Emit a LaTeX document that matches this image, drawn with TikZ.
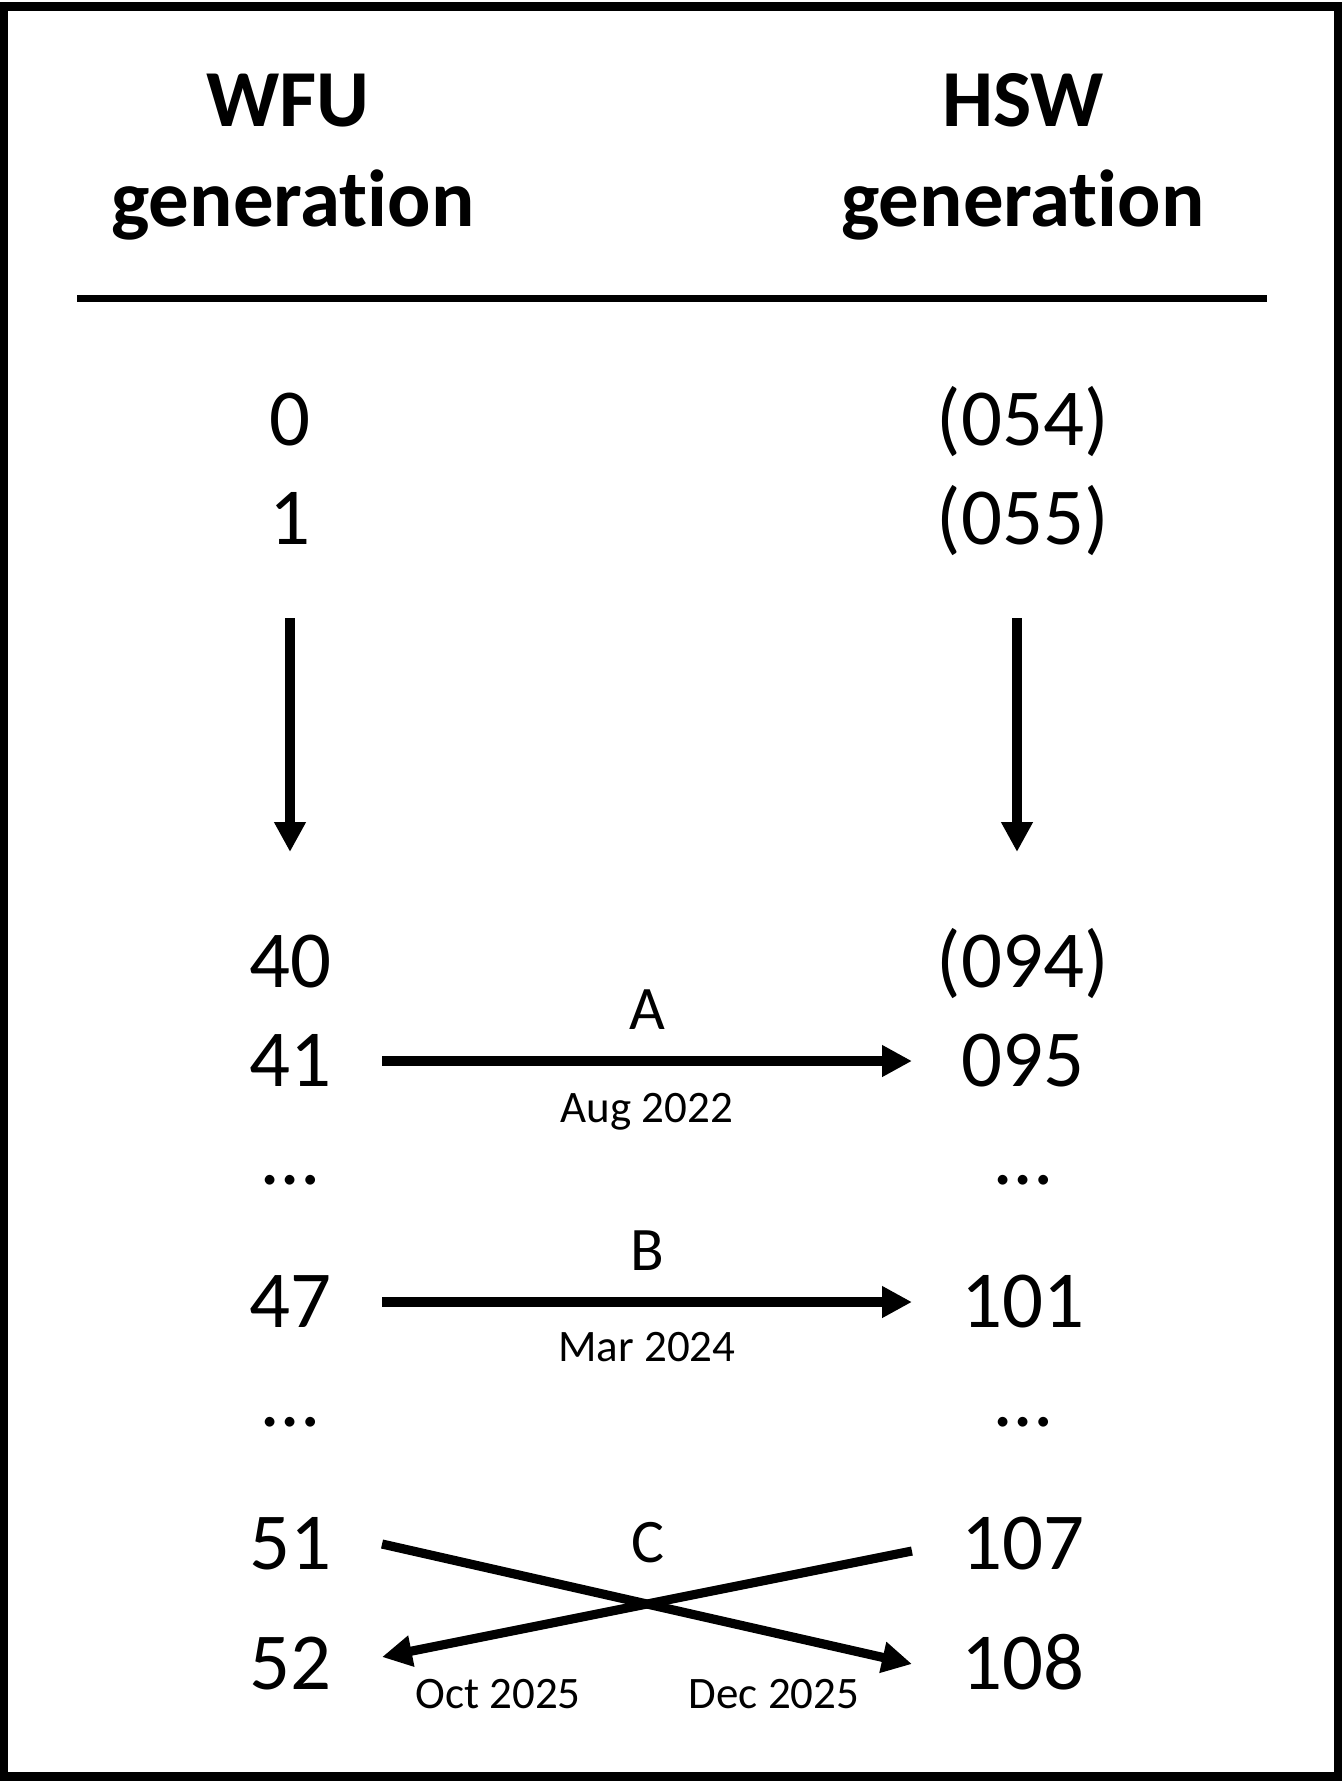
\documentclass[tikz,border=0pt]{standalone}
\usepackage{fontspec}
\setmainfont{Carlito}[Ligatures=NoCommon]
\usetikzlibrary{arrows.meta}

\begin{document}
\begin{tikzpicture}[x=0.01cm, y=-0.01cm,
    gen/.style={inner sep=0pt, text height=14.5pt, text depth=0pt, font=\fontsize{23}{28}\selectfont},
    head/.style={inner sep=0pt, anchor=base, font=\bfseries\fontsize{23}{28}\selectfont},
    evt/.style={inner sep=0pt, font=\fontsize{17.6}{20}\selectfont},
    datelab/.style={inner sep=0pt, font=\fontsize{12.8}{15}\selectfont},
    mig/.style={-{Triangle[width=8.5pt,length=8.5pt]}, line width=2.6pt}]
      \useasboundingbox (0,0) rectangle (1342,1782);
      \draw[line width=2.3pt] (4,6.5) rectangle (1338,1776.5);

      % column heads
      \node[head] (wfu) at (288,127) {WFU};
      \node[head] (wfugen) at (293,227) {generation};
      \node[head] (hsw) at (1023,127) {HSW};
      \node[head] (hswgen) at (1023,227) {generation};
      \draw[line width=2pt] (77,298.5) -- (1267,298.5);

      % WFU generations
      \node[gen] (w0) at (290,420) {0};
      \node[gen] (w1) at (290,519) {1};
      \node[gen] (w40) at (290,962) {40};
      \node[gen] (w41) at (290,1061) {41};
      \node[gen] (wd1) at (290,1159) {…};
      \node[gen] (w47) at (290,1302) {47};
      \node[gen] (wd2) at (290,1401) {…};
      \node[gen] (w51) at (290,1544) {51};
      \node[gen] (w52) at (290,1664) {52};

      % HSW generations
      \node[gen] (h054) at (1023,420) {(054)};
      \node[gen] (h055) at (1023,519) {(055)};
      \node[gen] (h094) at (1023,962) {(094)};
      \node[gen] (h095) at (1023,1061) {095};
      \node[gen] (hd1) at (1023,1159) {…};
      \node[gen] (h101) at (1023,1302) {101};
      \node[gen] (hd2) at (1023,1401) {…};
      \node[gen] (h107) at (1023,1544) {107};
      \node[gen] (h108) at (1023,1664) {108};

      \draw[mig] ([yshift=-0.99cm]w1.center) -- ([yshift=1.10cm]w40.center);
      \draw[mig] ([xshift=-0.06cm, yshift=-0.99cm]h055.center) -- ([xshift=-0.06cm, yshift=1.10cm]h094.center);

      \draw[mig] ([xshift=0.92cm]w41.center) -- ([xshift=-1.11cm]h095.center)
        node[midway, above=0.27cm, evt] {A}
        node[midway, below=0.28cm, datelab] {Aug 2022};
      \draw[mig] ([xshift=0.92cm]w47.center) -- ([xshift=-1.11cm]h101.center)
        node[midway, above=0.27cm, evt] {B}
        node[midway, below=0.26cm, datelab] {Mar 2024};

      \node[evt, anchor=base] (lc) at (648,1562) {C};
      \draw[mig] ([xshift=0.92cm]w51.center) -- ([xshift=-1.11cm]h108.center);
      \draw[mig] ([xshift=-1.11cm, yshift=-0.07cm]h107.center) -- ([xshift=0.92cm, yshift=0.07cm]w52.center);
      \node[datelab, anchor=base] (loct) at (498,1708) {Oct 2025};
      \node[datelab, anchor=base] (ldec) at (774,1708) {Dec 2025};
    \end{tikzpicture}
\end{document}
